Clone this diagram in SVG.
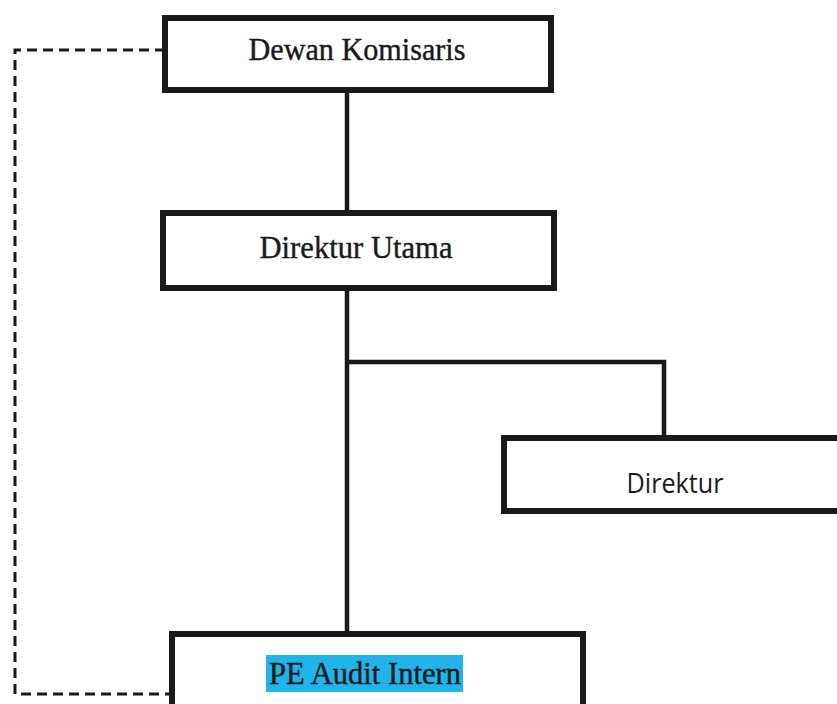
<svg xmlns="http://www.w3.org/2000/svg" width="837" height="704" viewBox="0 0 837 704">
<style>
.box{fill:#fff;stroke:#1a1a1a;stroke-width:6}
.ln{stroke:#1a1a1a;stroke-width:4.5;fill:none}
.dash{stroke:#1a1a1a;stroke-width:3;fill:none;stroke-dasharray:10 6}
.serif{font-family:"Liberation Serif","DejaVu Serif",serif;font-size:31px;fill:#1a1a1a;stroke:#1a1a1a;stroke-width:0.4;text-anchor:middle}
.sans{font-family:"Open Sans","Liberation Sans",sans-serif;font-size:27px;fill:#1a1a1a;text-anchor:middle}
</style>
<rect width="837" height="704" fill="#fff"/>
<g id="connectors">
<line class="ln" x1="347" y1="90" x2="347" y2="213"/>
<line class="ln" x1="347" y1="288" x2="347" y2="634"/>
<polyline class="ln" points="347,362 664,362 664,438"/>
<polyline class="dash" points="165,50 15,50 15,694 172,694"/>
</g>
<g id="dewan-komisaris">
<rect class="box" x="165" y="18" width="386" height="72"/>
<text class="serif" x="357" y="60" textLength="217" lengthAdjust="spacingAndGlyphs">Dewan Komisaris</text>
</g>
<g id="direktur-utama">
<rect class="box" x="163" y="213" width="391" height="75"/>
<text class="serif" x="356" y="258" textLength="193" lengthAdjust="spacingAndGlyphs">Direktur Utama</text>
</g>
<g id="direktur">
<rect class="box" x="504" y="438" width="340" height="73"/>
<text class="sans" x="675" y="493" textLength="97" lengthAdjust="spacingAndGlyphs">Direktur</text>
</g>
<g id="pe-audit-intern">
<rect class="box" x="172" y="634" width="411" height="80"/>
<rect x="266" y="655" width="197" height="37" fill="#21b4ea"/>
<text class="serif" x="365" y="684" textLength="192" lengthAdjust="spacingAndGlyphs">PE Audit Intern</text>
</g>
</svg>
